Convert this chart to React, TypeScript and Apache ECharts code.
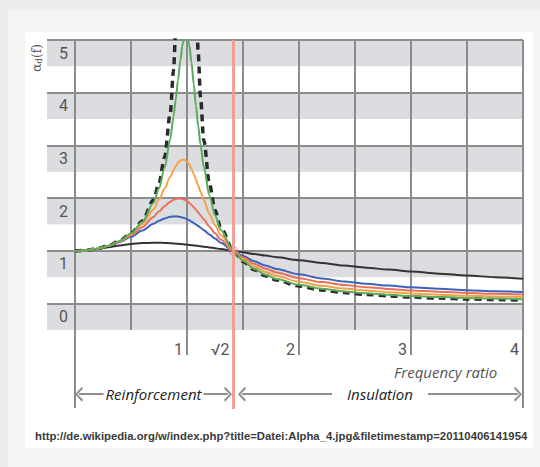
import React, { useEffect, useRef } from 'react';
import * as echarts from 'echarts';

// Frequency ratio (x) shared by all curves
const ratios = [0, 0.1, 0.2, 0.3, 0.4, 0.5, 0.6, 0.7, 0.75, 0.8, 0.85, 0.88, 0.9, 0.92, 0.94, 0.96, 0.98, 1.0, 1.02, 1.04, 1.06, 1.08, 1.1, 1.12, 1.15, 1.2, 1.25, 1.3, 1.414, 1.5, 1.6, 1.7, 1.8, 2.0, 2.2, 2.4, 2.6, 2.8, 3.0, 3.25, 3.5, 3.75, 4.0];

// Transmissibility, one array per curve
const undamped = [1, 1.010, 1.042, 1.099, 1.190, 1.333, 1.563, 1.961, 2.286, 2.778, 3.604, 4.433, 5.263, 6.510, 8.591, 12.755, 25.25, null, 24.75, 12.255, 8.091, 6.010, 4.762, 3.931, 3.101, 2.273, 1.778, 1.449, 1.0, 0.8, 0.641, 0.529, 0.446, 0.333, 0.260, 0.210, 0.174, 0.146, 0.125, 0.105, 0.089, 0.077, 0.067];
const greenCurve = [1, 1.010, 1.042, 1.099, 1.189, 1.328, 1.547, 1.909, 2.186, 2.571, 3.117, 3.549, 3.882, 4.242, 4.602, 4.910, 5.096, 5.099, 4.908, 4.571, 4.166, 3.752, 3.367, 3.023, 2.591, 2.052, 1.675, 1.401, 1.0, 0.812, 0.659, 0.550, 0.469, 0.356, 0.283, 0.232, 0.195, 0.168, 0.145, 0.124, 0.108, 0.096, 0.085];
const orangeCurve = [1, 1.010, 1.041, 1.097, 1.184, 1.314, 1.505, 1.785, 1.968, 2.180, 2.407, 2.536, 2.611, 2.672, 2.714, 2.733, 2.726, 2.693, 2.634, 2.555, 2.459, 2.353, 2.241, 2.127, 1.959, 1.704, 1.486, 1.305, 1.0, 0.841, 0.704, 0.602, 0.524, 0.413, 0.338, 0.286, 0.247, 0.218, 0.193, 0.170, 0.151, 0.137, 0.125];
const redCurve = [1, 1.010, 1.041, 1.095, 1.177, 1.293, 1.447, 1.642, 1.747, 1.849, 1.933, 1.970, 1.985, 1.994, 1.994, 1.985, 1.968, 1.944, 1.912, 1.873, 1.829, 1.781, 1.730, 1.677, 1.595, 1.460, 1.333, 1.218, 1.0, 0.873, 0.757, 0.665, 0.592, 0.483, 0.408, 0.353, 0.311, 0.279, 0.251, 0.225, 0.203, 0.186, 0.171];
const blueCurve = [1, 1.010, 1.041, 1.093, 1.168, 1.267, 1.387, 1.513, 1.571, 1.617, 1.647, 1.654, 1.655, 1.651, 1.644, 1.633, 1.619, 1.601, 1.580, 1.556, 1.530, 1.502, 1.472, 1.442, 1.394, 1.313, 1.233, 1.156, 1.0, 0.902, 0.805, 0.725, 0.658, 0.555, 0.479, 0.422, 0.377, 0.343, 0.311, 0.281, 0.256, 0.236, 0.219];
const blackCurve = [1, 1.010, 1.036, 1.070, 1.104, 1.131, 1.149, 1.155, 1.154, 1.151, 1.145, 1.141, 1.138, 1.134, 1.131, 1.127, 1.122, 1.118, 1.114, 1.109, 1.104, 1.099, 1.094, 1.088, 1.080, 1.066, 1.051, 1.036, 1.0, 0.973, 0.942, 0.911, 0.881, 0.825, 0.773, 0.725, 0.682, 0.646, 0.608, 0.569, 0.532, 0.502, 0.474];

const yTickLabels = ['0', '1', '2', '3', '4', '5'];
const xTickLabels = ['1', '2', '3', '4'];
const crossingPoint = [Math.SQRT2, 1];
const sourceUrl = 'http://de.wikipedia.org/w/index.php?title=Datei:Alpha_4.jpg&filetimestamp=20110406141954';

const GRID_GRAY = '#8c8c8c';
const BAND_GRAY = '#dcdde0';
const LABEL = '#555555';
const CHEVRON = 'path://M5,0 L10,8.5 L8.6,10 L5,3 L1.4,10 L0,8.5 Z';

const pairs = (vals: (number | null)[]) => ratios.map((r, i) => [r, vals[i]]);

export default function App() {
  const ref = useRef<HTMLDivElement>(null);
  useEffect(() => {
    const chart = echarts.init(ref.current!, null, { renderer: 'svg' });
    const tickLabelStyle = { fontSize: 16, color: LABEL, fontFamily: 'Roboto' };
    const curve = (vals: (number | null)[], color: string, width: number, extra: any = {}) => ({
      type: 'line',
      xAxisIndex: 1,
      yAxisIndex: 1,
      data: pairs(vals),
      showSymbol: false,
      symbol: 'none',
      smooth: 0.3,
      smoothMonotone: 'x',
      connectNulls: false,
      clip: true,
      lineStyle: { color, width, ...extra },
      z: 3,
    });
    const option: any = {
      animation: false,
      title: {
        text: sourceUrl,
        left: 30,
        top: 425,
        textStyle: { fontSize: 11.3, fontWeight: 'bold', color: '#3a3a3a', fontFamily: 'Liberation Sans' },
      },
      graphic: [
        {
          type: 'text',
          x: 37,
          y: 58,
          rotation: Math.PI / 2,
          style: {
            text: '{a|α}{s|d}{a|(f)}',
            align: 'center',
            verticalAlign: 'middle',
            fill: LABEL,
            rich: {
              a: { fontSize: 12, fill: LABEL, fontFamily: 'DejaVu Serif' },
              s: { fontSize: 9, fill: LABEL, fontFamily: 'DejaVu Serif', padding: [4, 0, 0, 0] },
            },
          },
        },
      ],
      grid: [
        { left: 47, right: 17, top: 40, bottom: 137 },
        { left: 75, right: 17, top: 40, bottom: 137 },
        { left: 75, right: 17, top: 40, bottom: 58 },
      ],
      xAxis: [
        { gridIndex: 0, type: 'value', show: false, min: 0, max: 1 },
        {
          gridIndex: 1, type: 'value', position: 'bottom', min: 0, max: 4, interval: 0.5,
          axisLine: { show: false }, axisTick: { show: false }, axisLabel: { show: false },
          splitLine: { show: true, lineStyle: { color: GRID_GRAY, width: 2 } },
        },
        {
          gridIndex: 1, type: 'value', position: 'bottom', min: 0, max: 4, interval: 1,
          axisLine: { show: false },
          axisTick: { show: true, length: 25, lineStyle: { color: GRID_GRAY, width: 2 } },
          axisLabel: {
            ...tickLabelStyle, margin: 11, align: 'right', padding: [0, 4, 0, 0],
            formatter: (v: number) => (v >= 1 && Number.isInteger(v) ? xTickLabels[v - 1] : ''),
          },
          splitLine: { show: false },
        },
        {
          gridIndex: 1, type: 'value', position: 'bottom', min: 0, max: 4, interval: 4,
          axisLine: { show: false },
          axisTick: { show: true, length: 78, lineStyle: { color: GRID_GRAY, width: 2 } },
          axisLabel: { show: false },
          splitLine: { show: false },
        },
        {
          gridIndex: 1, type: 'value', position: 'bottom', min: 0, max: 4, interval: Math.SQRT2,
          axisLine: { show: false }, axisTick: { show: false },
          axisLabel: {
            ...tickLabelStyle, margin: 11, align: 'right', padding: [0, 4, 0, 0],
            formatter: (v: number) => (Math.abs(v - Math.SQRT2) < 0.01 ? '√2' : ''),
          },
          splitLine: { show: false },
        },
        { gridIndex: 2, type: 'value', show: false, min: 0, max: 4 },
      ],
      yAxis: [
        {
          gridIndex: 0, type: 'value', min: -0.5, max: 5, interval: 0.5,
          axisLine: { show: false }, axisTick: { show: false }, axisLabel: { show: false },
          splitLine: { show: true, lineStyle: { color: ['rgba(0,0,0,0)', GRID_GRAY], width: 2 } },
          splitArea: { show: true, areaStyle: { color: [BAND_GRAY, '#ffffff'] } },
        },
        {
          gridIndex: 1, type: 'value', min: -0.5, max: 5, interval: 0.5,
          axisLine: { show: false }, axisTick: { show: false },
          splitLine: { show: false },
          axisLabel: {
            ...tickLabelStyle, margin: 7, verticalAlign: 'top', lineHeight: 26,
            formatter: (v: number) => (Number.isInteger(v) && v >= 0 ? yTickLabels[v] : ''),
          },
        },
        { gridIndex: 2, type: 'value', show: false, min: -2, max: 5 },
      ],
      series: [
        {
          type: 'line', xAxisIndex: 5, yAxisIndex: 2, data: [], z: 2,
          markLine: {
            silent: true, symbol: 'none', label: { show: false },
            lineStyle: { color: '#f2988a', width: 3, type: 'solid', opacity: 0.9 },
            data: [{ xAxis: Math.SQRT2 }],
          },
        },
        curve(undamped, '#2a2a2a', 3.5, { type: [7, 5] }),
        curve(blackCurve, '#333333', 2),
        curve(blueCurve, '#3d62b8', 2),
        curve(redCurve, '#e8705a', 2),
        curve(orangeCurve, '#f3a24a', 2),
        curve(greenCurve, '#5aac5a', 2),
        {
          type: 'scatter', xAxisIndex: 1, yAxisIndex: 1, data: [crossingPoint], z: 4,
          symbolSize: 9,
          itemStyle: { color: 'rgba(240,130,115,0.35)', borderColor: '#ef8a7a', borderWidth: 1 },
        },
        {
          type: 'scatter', xAxisIndex: 5, yAxisIndex: 2, data: [[3.77, -1.3]], symbolSize: 0, z: 4,
          label: {
            show: true, position: 'left', distance: 0, formatter: 'Frequency ratio',
            fontStyle: 'italic', fontSize: 15, color: '#222', fontFamily: 'Open Sans',
          },
          markLine: {
            silent: true,
            symbol: [CHEVRON, CHEVRON],
            symbolSize: [15, 8],
            lineStyle: { color: '#8f8f8f', width: 2, type: 'solid' },
            label: {
              show: true, position: 'middle', distance: 0, verticalAlign: 'middle',
              fontStyle: 'italic', fontSize: 15, color: '#222', fontFamily: 'Open Sans',
              backgroundColor: '#ffffff',
            },
            data: [
              [
                { coord: [0.036, -1.72], label: { formatter: 'Reinforcement', padding: [0, 2] } },
                { coord: [1.366, -1.72] },
              ],
              [
                { coord: [1.491, -1.72], label: { formatter: 'Insulation', padding: [0, 15] } },
                { coord: [3.955, -1.72] },
              ],
            ],
          },
        },
      ],
    };
    chart.setOption(option);
    return () => chart.dispose();
  }, []);
  return (
    <div style={{ position: 'fixed', left: 0, top: 0, width: 540, height: 467, background: '#ececea', overflow: 'hidden' }}>
      <div style={{ position: 'absolute', left: 8, top: 10, right: 0, bottom: 0, background: '#f4f4f2' }} />
      <div style={{ position: 'absolute', left: 25, top: 32, width: 508, height: 416, background: '#ffffff' }} />
      <div ref={ref} style={{ position: 'absolute', left: 0, top: 0, width: 540, height: 467 }} />
    </div>
  );
}
